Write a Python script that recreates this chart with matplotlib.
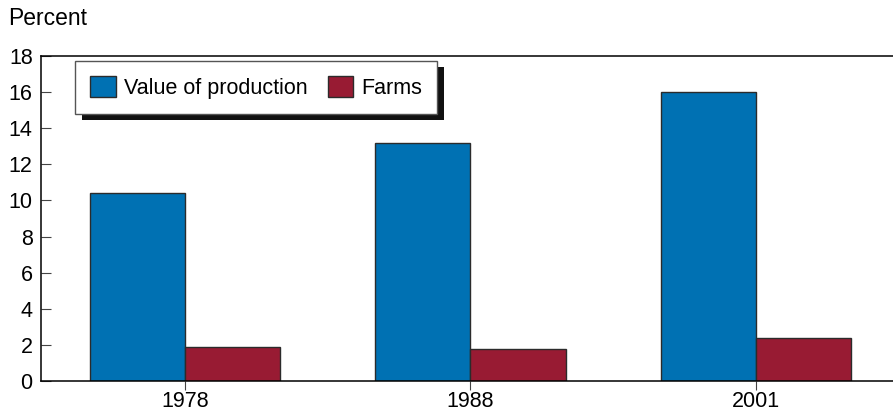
import numpy as np
import matplotlib.pyplot as plt
from matplotlib.patches import Rectangle

plt.rcParams['font.family'] = ['Liberation Sans', 'DejaVu Sans']

years = ['1978', '1988', '2001']
value_of_production = [10.4, 13.2, 16.0]
farms = [1.9, 1.8, 2.4]

blue = '#0071b3'
red = '#981b33'
edge = '#2b2b2b'

fig = plt.figure(figsize=(8.93, 4.16), dpi=100)
ax = fig.add_axes([41/893, 35/416, 1 - 41/893, 325/416])

x = np.arange(len(years))
w = 1/3
ax.bar(x - w/2, value_of_production, w, color=blue, edgecolor=edge, linewidth=1.0,
       label='Value of production')
ax.bar(x + w/2, farms, w, color=red, edgecolor=edge, linewidth=1.0, label='Farms')

ax.set_ylim(0, 18)
ax.set_xlim(-0.504, 2.48)
ax.set_yticks(range(0, 19, 2))
ax.set_xticks(x)
ax.set_xticklabels(years)
ax.tick_params(axis='y', direction='in', length=7, width=0.8, color='#444444',
               labelsize=15.5, pad=6)
ax.tick_params(axis='x', direction='out', length=6.5, width=0.8, color='#444444',
               labelsize=15.5, pad=1)
ax.spines['right'].set_visible(False)
for s in ['left', 'top', 'bottom']:
    ax.spines[s].set_linewidth(1.1)
    ax.spines[s].set_color('black')

fig.text(8/893, 1 - 7/416, 'Percent', ha='left', va='top', fontsize=16.5)

leg = ax.legend(loc='upper left', bbox_to_anchor=(75/893, 1 - 61/416),
                bbox_transform=fig.transFigure, ncol=2, fontsize=15.5,
                frameon=True, fancybox=False, framealpha=1, borderaxespad=0,
                borderpad=0.7, handlelength=1.2, handleheight=1.15,
                handletextpad=0.37, columnspacing=0.93)
leg.get_frame().set_edgecolor('#555555')
leg.get_frame().set_facecolor('white')
leg.get_frame().set_linewidth(1.0)
leg.set_zorder(5)

# solid drop shadow under the legend box
fig.canvas.draw()
bb = leg.get_window_extent()
shadow = Rectangle((bb.x0 + 7, bb.y0 - 6), bb.width, bb.height, transform=None,
                   facecolor='#111111', edgecolor='none', zorder=4)
ax.add_artist(shadow)

fig.savefig('out.png', dpi=100)
